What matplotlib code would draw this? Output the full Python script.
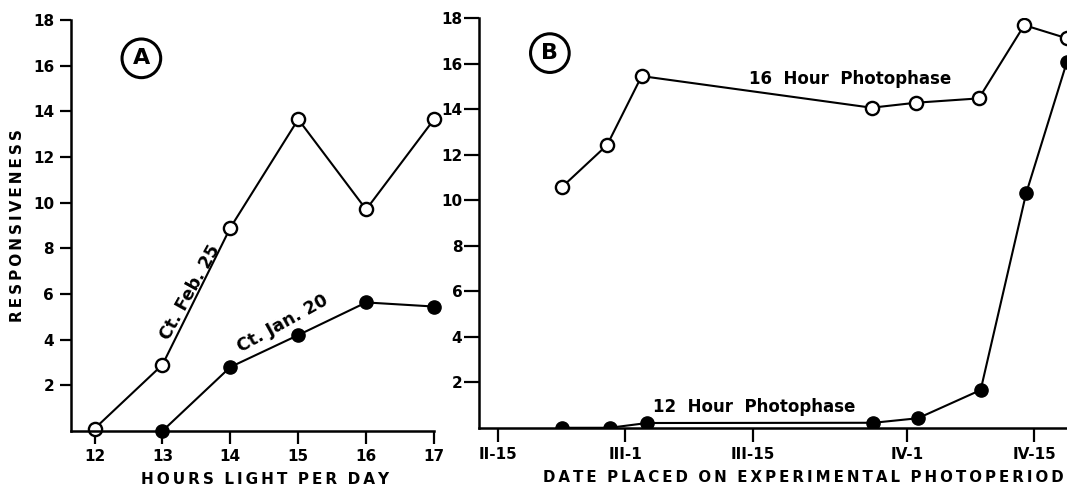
import matplotlib.pyplot as plt
import numpy as np

# panel A: hours of light per day
hours = [12, 13, 14, 15, 16, 17]
feb25 = [0.1, 2.9, 8.9, 13.65, 9.7, 13.65]
jan20_hours = [13, 14, 15, 16, 17]
jan20 = [0.0, 2.8, 4.2, 5.63, 5.45]

# panel B: date placed on photoperiod (day of year)
days_16 = [53.0, 58.0, 61.8, 87.1, 92.0, 98.9, 103.9, 108.6]
photo_16 = [10.57, 12.43, 15.46, 14.07, 14.29, 14.48, 17.7, 17.12]
days_12 = [53.0, 58.3, 62.4, 87.3, 92.2, 99.1, 104.1, 108.6]
photo_12 = [0.0, 0.0, 0.21, 0.22, 0.42, 1.66, 10.3, 16.1]

date_ticks = [46, 60, 74, 91, 105]
date_labels = ['II-15', 'III-1', 'III-15', 'IV-1', 'IV-15']
y_ticks = [2, 4, 6, 8, 10, 12, 14, 16, 18]


def spaced(s):
    # wide letter spacing like the original typeset labels
    return '  '.join('\u2009'.join(w) for w in s.split())


plt.rcParams['font.family'] = 'DejaVu Sans'
plt.rcParams['font.weight'] = 'bold'
plt.rcParams['axes.labelweight'] = 'bold'

fig = plt.figure(figsize=(10.67, 4.87), dpi=100)
axA = fig.add_axes([0.0663, 0.115, 0.3405, 0.844])
axB = fig.add_axes([0.4489, 0.1216, 0.5511, 0.8408])

open_kw = dict(color='black', lw=1.5, marker='o', ms=9.5, mfc='white', mec='black', mew=1.7)
fill_kw = dict(color='black', lw=1.5, marker='o', ms=9.5, mfc='black', mec='black')

axA.plot(hours, feb25, clip_on=False, **open_kw)
axA.plot(jan20_hours, jan20, clip_on=False, **fill_kw)
axA.set_xlim(11.65, 17.0)
axA.set_ylim(0, 18)
axA.set_xticks(hours)
axA.set_yticks(y_ticks)
axA.tick_params(axis='y', length=8, width=1.6, pad=4, labelsize=11)
axA.tick_params(axis='x', length=9, width=1.6, pad=4, labelsize=11)
axA.set_ylabel(spaced('RESPONSIVENESS'), fontsize=11)
axA.yaxis.set_label_coords(-0.126, 0.5)
axA.set_xlabel(spaced('HOURS LIGHT PER DAY'), fontsize=11)
axA.xaxis.set_label_coords(0.535, -0.1)
axA.text(13.41, 6.06, 'Ct. Feb. 25', rotation=61, ha='center', va='center', fontsize=12.5)
axA.text(14.77, 4.7, 'Ct. Jan. 20', rotation=29, ha='center', va='center', fontsize=12.5)
axA.text(12.69, 16.32, 'A', ha='center', va='center', fontsize=16,
         bbox=dict(boxstyle='circle,pad=0.42', fc='white', ec='black', lw=2.2))

axB.plot(days_16, photo_16, **open_kw)
axB.plot(days_12, photo_12, **fill_kw)
axB.set_xlim(43.9, 108.6)
axB.set_ylim(0, 18)
axB.set_xticks(date_ticks)
axB.set_xticklabels(date_labels)
axB.set_yticks(y_ticks)
axB.tick_params(axis='y', length=11, width=1.6, pad=1, labelsize=11)
axB.tick_params(axis='x', length=10, width=1.6, pad=4, labelsize=11)
axB.set_xlabel(spaced('DATE PLACED ON EXPERIMENTAL PHOTOPERIOD'), fontsize=10.8)
axB.xaxis.set_label_coords(0.551, -0.103)
axB.text(84.7, 15.33, '16  Hour  Photophase', ha='center', va='center', fontsize=12)
axB.text(74.2, 0.91, '12  Hour  Photophase', ha='center', va='center', fontsize=12)
axB.text(51.7, 16.47, 'B', ha='center', va='center', fontsize=16,
         bbox=dict(boxstyle='circle,pad=0.42', fc='white', ec='black', lw=2.2))

for ax in (axA, axB):
    for side in ('top', 'right'):
        ax.spines[side].set_visible(False)
    for side in ('left', 'bottom'):
        ax.spines[side].set_linewidth(1.8)

fig.savefig('out.png', dpi=100)
